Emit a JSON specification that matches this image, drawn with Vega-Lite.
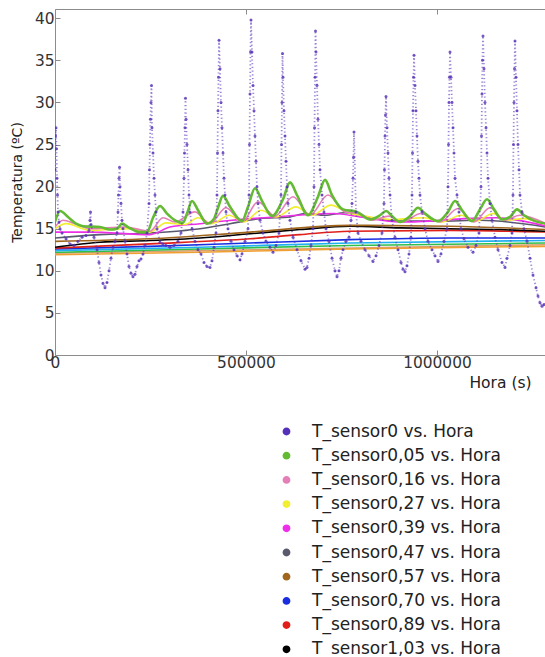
{
"$schema":"https://vega.github.io/schema/vega-lite/v6.json",
"width":490,"height":346,
"autosize":{"type":"none"},
"padding":{"left":55,"top":9,"right":0,"bottom":302},
"background":"white",
"config":{
"view":{"stroke":null},
"axis":{"grid":false,"domainColor":"#8c8c8c","tickColor":"#8c8c8c","labelFont":"DejaVu Sans","labelFontSize":15.4,"labelColor":"#333333","titleFont":"DejaVu Sans","titleFontWeight":"normal","titleColor":"#222222","tickSize":-5}
},
"datasets":{
"pts":[
{"s":"0","x":0,"y":22},{"s":"0","x":1300,"y":26},{"s":"0","x":2600,"y":27},{"s":"0","x":3900,"y":24.5},{"s":"0","x":5200,"y":21},{"s":"0","x":6500,"y":19},{"s":"0","x":7900,"y":17},{"s":"0","x":10500,"y":15.8},{"s":"0","x":13100,"y":15},{"s":"0","x":18300,"y":14.5},{"s":"0","x":28800,"y":13.8},{"s":"0","x":39300,"y":13.2},{"s":"0","x":49700,"y":13.0},{"s":"0","x":60200,"y":13.5},{"s":"0","x":70700,"y":14.0},{"s":"0","x":81200,"y":14.2},{"s":"0","x":89000,"y":14.8},{"s":"0","x":91600,"y":16.0},{"s":"0","x":92900,"y":17.0},{"s":"0","x":94200,"y":15.5},{"s":"0","x":102100,"y":14.0},{"s":"0","x":110000,"y":12.5},{"s":"0","x":115200,"y":11.0},{"s":"0","x":120400,"y":9.5},{"s":"0","x":125700,"y":8.5},{"s":"0","x":130900,"y":8.0},{"s":"0","x":136100,"y":8.6},{"s":"0","x":141400,"y":10.0},{"s":"0","x":146600,"y":11.5},{"s":"0","x":151800,"y":12.8},{"s":"0","x":157100,"y":13.5},{"s":"0","x":162300,"y":14.5},{"s":"0","x":164900,"y":17},{"s":"0","x":166200,"y":19},{"s":"0","x":167600,"y":21},{"s":"0","x":168900,"y":22.3},{"s":"0","x":170200,"y":20},{"s":"0","x":172800,"y":18},{"s":"0","x":175400,"y":16},{"s":"0","x":178000,"y":15},{"s":"0","x":183300,"y":13.5},{"s":"0","x":188500,"y":12},{"s":"0","x":193700,"y":10.5},{"s":"0","x":199000,"y":9.7},{"s":"0","x":204200,"y":9.3},{"s":"0","x":209400,"y":9.6},{"s":"0","x":214700,"y":10.5},{"s":"0","x":219900,"y":11.2},{"s":"0","x":225100,"y":11.4},{"s":"0","x":230400,"y":12.0},{"s":"0","x":235600,"y":13.0},{"s":"0","x":240900,"y":14.5},{"s":"0","x":246100,"y":18},{"s":"0","x":247400,"y":22},{"s":"0","x":248700,"y":25},{"s":"0","x":250000,"y":28},{"s":"0","x":251300,"y":30},{"s":"0","x":252600,"y":32},{"s":"0","x":253900,"y":27},{"s":"0","x":256600,"y":24},{"s":"0","x":259200,"y":21},{"s":"0","x":261800,"y":19},{"s":"0","x":264400,"y":17},{"s":"0","x":267000,"y":15},{"s":"0","x":274900,"y":13.4},{"s":"0","x":282700,"y":13.2},{"s":"0","x":290600,"y":13.0},{"s":"0","x":301100,"y":12.8},{"s":"0","x":311500,"y":13.0},{"s":"0","x":322000,"y":13.5},{"s":"0","x":329900,"y":14.5},{"s":"0","x":335100,"y":17},{"s":"0","x":337700,"y":21},{"s":"0","x":339000,"y":24},{"s":"0","x":340300,"y":27},{"s":"0","x":341600,"y":30.5},{"s":"0","x":343000,"y":28},{"s":"0","x":345600,"y":25},{"s":"0","x":348200,"y":22},{"s":"0","x":350800,"y":19},{"s":"0","x":353400,"y":17},{"s":"0","x":358700,"y":15},{"s":"0","x":366500,"y":13.5},{"s":"0","x":374400,"y":12.5},{"s":"0","x":382200,"y":12.0},{"s":"0","x":390100,"y":11.0},{"s":"0","x":397900,"y":10.5},{"s":"0","x":405800,"y":10.4},{"s":"0","x":411000,"y":11.2},{"s":"0","x":416300,"y":12.8},{"s":"0","x":421500,"y":14.5},{"s":"0","x":424100,"y":19},{"s":"0","x":425400,"y":24},{"s":"0","x":426700,"y":29},{"s":"0","x":428100,"y":33},{"s":"0","x":429400,"y":37.4},{"s":"0","x":432000,"y":34},{"s":"0","x":434600,"y":30},{"s":"0","x":437200,"y":27},{"s":"0","x":439800,"y":24},{"s":"0","x":442400,"y":21},{"s":"0","x":445100,"y":19},{"s":"0","x":447700,"y":17},{"s":"0","x":452900,"y":15},{"s":"0","x":460800,"y":13.5},{"s":"0","x":468600,"y":12.5},{"s":"0","x":476500,"y":11.8},{"s":"0","x":484300,"y":11.3},{"s":"0","x":489600,"y":12.0},{"s":"0","x":497400,"y":13.5},{"s":"0","x":505300,"y":15},{"s":"0","x":507900,"y":19},{"s":"0","x":509200,"y":25},{"s":"0","x":510500,"y":31},{"s":"0","x":511800,"y":36},{"s":"0","x":513100,"y":39.8},{"s":"0","x":515700,"y":36},{"s":"0","x":518400,"y":32},{"s":"0","x":521000,"y":29},{"s":"0","x":523600,"y":26},{"s":"0","x":526200,"y":23},{"s":"0","x":528800,"y":20},{"s":"0","x":531500,"y":18},{"s":"0","x":536700,"y":16},{"s":"0","x":544500,"y":14.5},{"s":"0","x":552400,"y":13.5},{"s":"0","x":562900,"y":12.8},{"s":"0","x":570700,"y":12.2},{"s":"0","x":578600,"y":13.0},{"s":"0","x":586400,"y":14.5},{"s":"0","x":591700,"y":19},{"s":"0","x":593000,"y":25},{"s":"0","x":594300,"y":30},{"s":"0","x":595600,"y":35.8},{"s":"0","x":596900,"y":33},{"s":"0","x":599500,"y":29},{"s":"0","x":602100,"y":26},{"s":"0","x":604800,"y":23},{"s":"0","x":607400,"y":20},{"s":"0","x":610000,"y":18},{"s":"0","x":615200,"y":16},{"s":"0","x":623100,"y":14},{"s":"0","x":633600,"y":12.5},{"s":"0","x":644000,"y":11.2},{"s":"0","x":654500,"y":10.2},{"s":"0","x":659700,"y":10.4},{"s":"0","x":665000,"y":11.5},{"s":"0","x":670200,"y":13},{"s":"0","x":675400,"y":15},{"s":"0","x":678100,"y":20},{"s":"0","x":679400,"y":27},{"s":"0","x":680700,"y":33},{"s":"0","x":682000,"y":38.5},{"s":"0","x":683300,"y":36},{"s":"0","x":685900,"y":32},{"s":"0","x":688500,"y":28},{"s":"0","x":691200,"y":25},{"s":"0","x":693800,"y":22},{"s":"0","x":699000,"y":19},{"s":"0","x":704200,"y":17},{"s":"0","x":709500,"y":15},{"s":"0","x":717300,"y":13.5},{"s":"0","x":725200,"y":11.5},{"s":"0","x":733000,"y":10},{"s":"0","x":738300,"y":9.3},{"s":"0","x":743500,"y":10},{"s":"0","x":748700,"y":11.5},{"s":"0","x":754000,"y":12.5},{"s":"0","x":761800,"y":13.5},{"s":"0","x":769700,"y":14.0},{"s":"0","x":774900,"y":16},{"s":"0","x":777500,"y":18},{"s":"0","x":780200,"y":21},{"s":"0","x":781500,"y":23.5},{"s":"0","x":782800,"y":26.5},{"s":"0","x":788000,"y":17},{"s":"0","x":793300,"y":14.5},{"s":"0","x":801100,"y":13.5},{"s":"0","x":811600,"y":12.5},{"s":"0","x":822100,"y":11.8},{"s":"0","x":832500,"y":11.1},{"s":"0","x":840400,"y":11.8},{"s":"0","x":848200,"y":13},{"s":"0","x":856100,"y":14.5},{"s":"0","x":861300,"y":18},{"s":"0","x":862600,"y":22},{"s":"0","x":863900,"y":26},{"s":"0","x":865200,"y":28.5},{"s":"0","x":866600,"y":30.7},{"s":"0","x":869200,"y":27},{"s":"0","x":871800,"y":24},{"s":"0","x":874400,"y":21},{"s":"0","x":877000,"y":19},{"s":"0","x":882300,"y":16},{"s":"0","x":890100,"y":14},{"s":"0","x":898000,"y":12.5},{"s":"0","x":905800,"y":11},{"s":"0","x":911100,"y":10.2},{"s":"0","x":916300,"y":9.9},{"s":"0","x":921500,"y":10.6},{"s":"0","x":926800,"y":12},{"s":"0","x":932000,"y":14},{"s":"0","x":934600,"y":19},{"s":"0","x":936000,"y":24},{"s":"0","x":937200,"y":29},{"s":"0","x":938600,"y":33},{"s":"0","x":939900,"y":35.6},{"s":"0","x":942500,"y":32},{"s":"0","x":945100,"y":29},{"s":"0","x":947700,"y":26},{"s":"0","x":950300,"y":23},{"s":"0","x":952900,"y":21},{"s":"0","x":955600,"y":19},{"s":"0","x":960800,"y":17},{"s":"0","x":968700,"y":15},{"s":"0","x":976500,"y":13.5},{"s":"0","x":987000,"y":12.5},{"s":"0","x":994800,"y":11.8},{"s":"0","x":1002700,"y":11.1},{"s":"0","x":1010500,"y":12.0},{"s":"0","x":1018400,"y":13.5},{"s":"0","x":1026300,"y":15},{"s":"0","x":1028900,"y":20},{"s":"0","x":1030200,"y":25},{"s":"0","x":1031500,"y":30},{"s":"0","x":1032800,"y":33},{"s":"0","x":1034100,"y":36},{"s":"0","x":1036700,"y":33},{"s":"0","x":1039300,"y":30},{"s":"0","x":1042000,"y":27},{"s":"0","x":1044600,"y":24},{"s":"0","x":1047200,"y":21},{"s":"0","x":1052400,"y":19},{"s":"0","x":1057700,"y":17},{"s":"0","x":1062900,"y":15},{"s":"0","x":1070800,"y":13.8},{"s":"0","x":1081200,"y":12.8},{"s":"0","x":1094300,"y":12.2},{"s":"0","x":1102200,"y":13},{"s":"0","x":1110000,"y":14.5},{"s":"0","x":1115300,"y":20},{"s":"0","x":1116600,"y":26},{"s":"0","x":1117900,"y":31},{"s":"0","x":1119200,"y":35},{"s":"0","x":1120500,"y":37.9},{"s":"0","x":1123100,"y":34},{"s":"0","x":1125700,"y":30},{"s":"0","x":1128400,"y":27},{"s":"0","x":1131000,"y":24},{"s":"0","x":1133600,"y":21},{"s":"0","x":1138800,"y":18},{"s":"0","x":1144100,"y":16},{"s":"0","x":1151900,"y":14},{"s":"0","x":1159800,"y":12.5},{"s":"0","x":1170200,"y":11},{"s":"0","x":1178100,"y":10.4},{"s":"0","x":1183300,"y":11.5},{"s":"0","x":1191200,"y":13},{"s":"0","x":1196400,"y":14.5},{"s":"0","x":1199000,"y":19},{"s":"0","x":1200300,"y":25},{"s":"0","x":1201700,"y":30},{"s":"0","x":1203000,"y":34},{"s":"0","x":1204300,"y":37.3},{"s":"0","x":1206900,"y":33},{"s":"0","x":1209500,"y":29},{"s":"0","x":1212100,"y":25},{"s":"0","x":1214800,"y":22},{"s":"0","x":1217400,"y":19},{"s":"0","x":1222600,"y":17},{"s":"0","x":1227800,"y":15},{"s":"0","x":1235700,"y":13.5},{"s":"0","x":1243600,"y":11.5},{"s":"0","x":1251400,"y":9.5},{"s":"0","x":1259300,"y":8},{"s":"0","x":1264500,"y":7},{"s":"0","x":1269700,"y":6.2},{"s":"0","x":1275000,"y":5.8},{"s":"0","x":1280200,"y":6.0}
],
"lines":[
{"s":"1,80","x":0,"y":12.1},{"s":"1,80","x":1285500,"y":13.1},
{"s":"1,60","x":0,"y":11.9},{"s":"1,60","x":379600,"y":12.2},{"s":"1,60","x":772300,"y":12.6},{"s":"1,60","x":1285500,"y":12.9},
{"s":"1,40","x":0,"y":12.2},{"s":"1,40","x":379600,"y":12.6},{"s":"1,40","x":772300,"y":13.0},{"s":"1,40","x":1285500,"y":13.3},
{"s":"1,20","x":0,"y":12.4},{"s":"1,20","x":379600,"y":12.8},{"s":"1,20","x":772300,"y":13.3},{"s":"1,20","x":1285500,"y":13.6},
{"s":"0,70","x":0,"y":12.6},{"s":"0,70","x":248700,"y":12.9},{"s":"0,70","x":510500,"y":13.3},{"s":"0,70","x":772300,"y":13.7},{"s":"0,70","x":1034100,"y":13.9},{"s":"0,70","x":1285500,"y":13.9},
{"s":"0,89","x":0,"y":12.7},{"s":"0,89","x":248700,"y":13.2},{"s":"0,89","x":510500,"y":13.8},{"s":"0,89","x":641400,"y":14.3},{"s":"0,89","x":772300,"y":14.7},{"s":"0,89","x":1034100,"y":14.8},{"s":"0,89","x":1285500,"y":14.6},
{"s":"1,03","x":0,"y":12.8},{"s":"1,03","x":117800,"y":13.4},{"s":"1,03","x":248700,"y":13.6},{"s":"1,03","x":379600,"y":13.9},{"s":"1,03","x":510500,"y":14.4},{"s":"1,03","x":641400,"y":14.9},{"s":"1,03","x":772300,"y":15.3},{"s":"1,03","x":903200,"y":15.1},{"s":"1,03","x":1034100,"y":15.0},{"s":"1,03","x":1165000,"y":14.9},{"s":"1,03","x":1285500,"y":14.7},
{"s":"0,57","x":0,"y":13.5},{"s":"0,57","x":248700,"y":13.8},{"s":"0,57","x":510500,"y":14.6},{"s":"0,57","x":772300,"y":15.4},{"s":"0,57","x":1034100,"y":15.3},{"s":"0,57","x":1285500,"y":14.9},
{"s":"0,47","x":0,"y":13.9},{"s":"0,47","x":117800,"y":14.3},{"s":"0,47","x":248700,"y":14.5},{"s":"0,47","x":379600,"y":15.0},{"s":"0,47","x":458200,"y":15.6},{"s":"0,47","x":536700,"y":16.2},{"s":"0,47","x":615200,"y":16.4},{"s":"0,47","x":654500,"y":16.8},{"s":"0,47","x":706900,"y":16.6},{"s":"0,47","x":759200,"y":16.9},{"s":"0,47","x":824700,"y":16.3},{"s":"0,47","x":903200,"y":15.9},{"s":"0,47","x":1007900,"y":15.9},{"s":"0,47","x":1112700,"y":16.0},{"s":"0,47","x":1285500,"y":15.2},
{"s":"0,39","x":0,"y":14.6},{"s":"0,39","x":91600,"y":14.6},{"s":"0,39","x":248700,"y":14.3},{"s":"0,39","x":301100,"y":15.2},{"s":"0,39","x":379600,"y":15.6},{"s":"0,39","x":463400,"y":16.0},{"s":"0,39","x":547200,"y":16.3},{"s":"0,39","x":636200,"y":16.6},{"s":"0,39","x":730400,"y":16.8},{"s":"0,39","x":798500,"y":16.4},{"s":"0,39","x":903200,"y":15.8},{"s":"0,39","x":981800,"y":15.9},{"s":"0,39","x":1070800,"y":16.2},{"s":"0,39","x":1154500,"y":16.3},{"s":"0,39","x":1285500,"y":15.3},
{"s":"0,27","x":0,"y":15.0},{"s":"0,27","x":28800,"y":15.6},{"s":"0,27","x":91600,"y":14.8},{"s":"0,27","x":196400,"y":15.0},{"s":"0,27","x":248700,"y":14.6},{"s":"0,27","x":290600,"y":15.7},{"s":"0,27","x":340300,"y":15.5},{"s":"0,27","x":374400,"y":16.3},{"s":"0,27","x":411000,"y":15.6},{"s":"0,27","x":455500,"y":16.6},{"s":"0,27","x":494800,"y":15.8},{"s":"0,27","x":539300,"y":17.2},{"s":"0,27","x":578600,"y":16.4},{"s":"0,27","x":630900,"y":17.6},{"s":"0,27","x":672800,"y":16.6},{"s":"0,27","x":722600,"y":17.8},{"s":"0,27","x":767100,"y":16.9},{"s":"0,27","x":811600,"y":16.5},{"s":"0,27","x":882300,"y":16.1},{"s":"0,27","x":966100,"y":16.3},{"s":"0,27","x":1013200,"y":15.8},{"s":"0,27","x":1062900,"y":16.6},{"s":"0,27","x":1102200,"y":15.9},{"s":"0,27","x":1146700,"y":16.8},{"s":"0,27","x":1180700,"y":16.0},{"s":"0,27","x":1225200,"y":16.2},{"s":"0,27","x":1285500,"y":15.5},
{"s":"0,16","x":0,"y":15.2},{"s":"0,16","x":20900,"y":16.0},{"s":"0,16","x":52400,"y":15.6},{"s":"0,16","x":91600,"y":15.0},{"s":"0,16","x":183300,"y":15.2},{"s":"0,16","x":248700,"y":14.7},{"s":"0,16","x":282700,"y":16.3},{"s":"0,16","x":314200,"y":15.8},{"s":"0,16","x":366500,"y":17.0},{"s":"0,16","x":405800,"y":15.6},{"s":"0,16","x":447700,"y":17.5},{"s":"0,16","x":489600,"y":15.8},{"s":"0,16","x":531500,"y":18.2},{"s":"0,16","x":576000,"y":16.5},{"s":"0,16","x":623100,"y":18.8},{"s":"0,16","x":667600,"y":16.6},{"s":"0,16","x":714700,"y":19.0},{"s":"0,16","x":759200,"y":17.0},{"s":"0,16","x":798500,"y":16.8},{"s":"0,16","x":829900,"y":16.0},{"s":"0,16","x":874400,"y":16.5},{"s":"0,16","x":908400,"y":15.8},{"s":"0,16","x":958200,"y":16.8},{"s":"0,16","x":1007900,"y":15.8},{"s":"0,16","x":1055000,"y":17.4},{"s":"0,16","x":1096900,"y":15.8},{"s":"0,16","x":1138800,"y":17.5},{"s":"0,16","x":1175500,"y":16.0},{"s":"0,16","x":1217400,"y":16.6},{"s":"0,16","x":1285500,"y":15.6},
{"s":"0,05","x":0,"y":15.8},{"s":"0,05","x":13100,"y":17.1},{"s":"0,05","x":34000,"y":16.4},{"s":"0,05","x":55000,"y":15.6},{"s":"0,05","x":73300,"y":15.3},{"s":"0,05","x":117800,"y":15.2},{"s":"0,05","x":144000,"y":14.9},{"s":"0,05","x":162300,"y":15.0},{"s":"0,05","x":175400,"y":15.6},{"s":"0,05","x":191100,"y":15.2},{"s":"0,05","x":222500,"y":14.6},{"s":"0,05","x":240900,"y":14.6},{"s":"0,05","x":256600,"y":16.3},{"s":"0,05","x":274900,"y":17.7},{"s":"0,05","x":293200,"y":16.8},{"s":"0,05","x":314200,"y":16.0},{"s":"0,05","x":335100,"y":15.7},{"s":"0,05","x":345600,"y":16.8},{"s":"0,05","x":358700,"y":18.3},{"s":"0,05","x":374400,"y":17.2},{"s":"0,05","x":397900,"y":15.6},{"s":"0,05","x":416300,"y":16.2},{"s":"0,05","x":426700,"y":17.5},{"s":"0,05","x":439800,"y":18.9},{"s":"0,05","x":458200,"y":17.6},{"s":"0,05","x":489600,"y":15.9},{"s":"0,05","x":505300,"y":17.6},{"s":"0,05","x":523600,"y":19.8},{"s":"0,05","x":541900,"y":18.3},{"s":"0,05","x":568100,"y":16.5},{"s":"0,05","x":596900,"y":18.5},{"s":"0,05","x":615200,"y":20.5},{"s":"0,05","x":633600,"y":19.0},{"s":"0,05","x":662400,"y":16.6},{"s":"0,05","x":688500,"y":18.8},{"s":"0,05","x":706900,"y":20.8},{"s":"0,05","x":725200,"y":19.0},{"s":"0,05","x":754000,"y":17.3},{"s":"0,05","x":790600,"y":17.0},{"s":"0,05","x":824700,"y":16.1},{"s":"0,05","x":850900,"y":16.6},{"s":"0,05","x":866600,"y":17.1},{"s":"0,05","x":882300,"y":16.5},{"s":"0,05","x":903200,"y":15.8},{"s":"0,05","x":929400,"y":16.5},{"s":"0,05","x":950300,"y":17.5},{"s":"0,05","x":968700,"y":16.8},{"s":"0,05","x":1002700,"y":15.9},{"s":"0,05","x":1028900,"y":17.0},{"s":"0,05","x":1047200,"y":18.3},{"s":"0,05","x":1065500,"y":17.2},{"s":"0,05","x":1091700,"y":15.9},{"s":"0,05","x":1112700,"y":17.3},{"s":"0,05","x":1131000,"y":18.5},{"s":"0,05","x":1149300,"y":17.3},{"s":"0,05","x":1170200,"y":16.1},{"s":"0,05","x":1191200,"y":16.4},{"s":"0,05","x":1209500,"y":17.3},{"s":"0,05","x":1227800,"y":16.6},{"s":"0,05","x":1256600,"y":15.9},{"s":"0,05","x":1285500,"y":15.6}
]
},
"encoding":{
"y":{"field":"y","type":"quantitative","scale":{"domain":[0,41.1],"nice":false,"zero":false},
"axis":{"values":[0,5,10,15,20,25,30,35,40],"format":"d","title":"Temperatura (ºC)","titleFontSize":14,"titlePadding":10,"labelPadding":6}},
"color":{"field":"s","type":"nominal",
"scale":{"domain":["0","0,05","0,16","0,27","0,39","0,47","0,57","0,70","0,89","1,03","1,20","1,40","1,60","1,80"],
"range":["#5530b8","#62bb32","#e57fb8","#f2ee30","#ee2fe8","#5a5a6e","#a0661e","#1a2ee0","#e0201a","#000000","#20b0f0","#2fbf4a","#f0a030","#d8a070"]},
"legend":{"orient":"none","legendX":223,"legendY":414,"title":null,
"values":["0","0,05","0,16","0,27","0,39","0,47","0,57","0,70","0,89","1,03"],
"symbolType":"circle","symbolSize":40,"symbolOpacity":1,"labelFont":"DejaVu Sans","labelFontSize":17,"labelColor":"#222222","labelLimit":0,"rowPadding":6.2,"labelOffset":17,
"labelExpr":"'T_sensor' + datum.label + ' vs. Hora'",
"encode":{"symbols":{"update":{"fill":{"scale":"color","field":"value"},"stroke":{"value":"transparent"}}}}}}
},
"layer":[
{"data":{"name":"lines"},"transform":[{"filter":"datum.s != '0,05'"}],
"mark":{"type":"line","strokeWidth":1.6,"clip":true,"interpolate":"monotone"},
"encoding":{"x":{"field":"x","type":"quantitative","scale":{"domain":[0,1282820],"nice":false,"zero":false},
"axis":{"orient":"bottom","values":[0,500000,1000000],"format":"d","labelFlush":false,"labelOverlap":false,"labelPadding":5,"title":"Hora (s)","titleFontSize":15.5,"titleX":445,"titleY":20,"titleAlign":"center","titleBaseline":"top"}},
"order":{"field":"x","type":"quantitative"}}},
{"data":{"name":"lines"},"transform":[{"filter":"datum.s == '0,05'"}],
"mark":{"type":"line","strokeWidth":2.6,"clip":true,"interpolate":"monotone"},
"encoding":{"x":{"field":"x","type":"quantitative","scale":{"domain":[0,1282820],"nice":false,"zero":false},
"axis":{"orient":"top","values":[0,500000,1000000],"labels":false,"title":null}},
"order":{"field":"x","type":"quantitative"}}},
{"data":{"name":"pts"},
"mark":{"type":"line","strokeWidth":1.8,"strokeDash":[1.2,2.5],"opacity":0.6,"clip":true},
"encoding":{"x":{"field":"x","type":"quantitative","scale":{"domain":[0,1282820],"nice":false,"zero":false},"axis":null},
"order":{"field":"x","type":"quantitative"}}},
{"data":{"name":"pts"},
"mark":{"type":"circle","size":9,"opacity":0.8,"clip":true},
"encoding":{"x":{"field":"x","type":"quantitative","scale":{"domain":[0,1282820],"nice":false,"zero":false},"axis":null}}}
],
"resolve":{"axis":{"x":"independent"}}
}
